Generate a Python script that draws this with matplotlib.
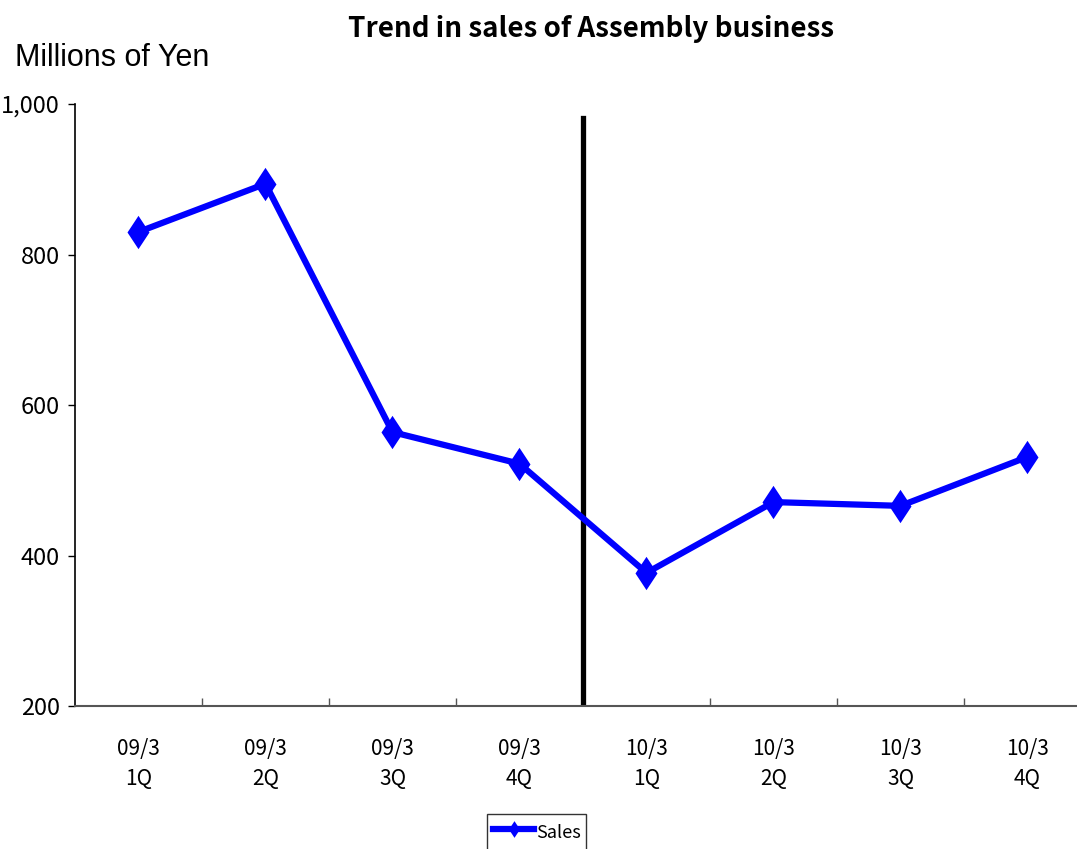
import matplotlib.pyplot as plt
from matplotlib.path import Path
from matplotlib.ticker import FuncFormatter, FixedLocator

periods = ['09/3\n1Q', '09/3\n2Q', '09/3\n3Q', '09/3\n4Q',
           '10/3\n1Q', '10/3\n2Q', '10/3\n3Q', '10/3\n4Q']
sales = [830, 894, 564, 522, 377, 471, 466, 531]
fiscal_split = 3.5

narrow = ['Liberation Sans Narrow', 'Noto Sans CJK JP', 'DejaVu Sans']

# tall, narrow diamond marker
diamond = Path([(0, 1), (0.66, 0), (0, -1), (-0.66, 0), (0, 1)],
               [Path.MOVETO, Path.LINETO, Path.LINETO, Path.LINETO, Path.CLOSEPOLY])

fig = plt.figure(figsize=(10.77, 8.49), dpi=100)
ax = fig.add_axes([0.0696, 0.1684, 0.9434, 0.7091])

x = range(len(sales))
ax.plot(x, sales, color='#0000ff', lw=4.5, marker=diamond, ms=24,
        markeredgewidth=0, label='Sales', zorder=3)
ax.axvline(fiscal_split, ymin=0, ymax=0.977, color='black', lw=3.8, zorder=2)

ax.set_xlim(-0.5, len(sales) - 0.5)
ax.set_ylim(200, 1000)
ax.set_yticks([200, 400, 600, 800, 1000])
ax.yaxis.set_major_formatter(FuncFormatter(lambda v, p: f'{int(v):,}'))
ax.set_xticks(list(x))
ax.set_xticklabels(periods, family=narrow, fontsize=15, linespacing=1.5)
ax.xaxis.set_minor_locator(FixedLocator([i + 0.5 for i in range(len(sales) - 1)]))
ax.tick_params(axis='x', which='major', length=0, pad=23)
ax.tick_params(axis='x', which='minor', direction='in', length=6, width=1, color='#555555')
ax.tick_params(axis='y', direction='out', length=5, width=1, pad=6)
for lbl in ax.get_yticklabels():
    lbl.set_family(narrow)
    lbl.set_fontsize(17)

for side in ('top', 'right'):
    ax.spines[side].set_visible(False)
ax.spines['left'].set_linewidth(1.2)
ax.spines['bottom'].set_color('#555555')
ax.spines['bottom'].set_linewidth(1.5)

fig.text(0.549, 0.966, 'Trend in sales of Assembly business', ha='center', va='center',
         family=narrow, fontsize=20, fontweight='bold')
fig.text(0.014, 0.932, 'Millions of Yen', ha='left', va='center',
         family=['Liberation Sans', 'DejaVu Sans'], fontsize=22)

leg = fig.legend(loc='upper center', bbox_to_anchor=(0.4985, 0.041), borderaxespad=0,
                 frameon=True, fancybox=False, edgecolor='black',
                 prop={'family': narrow, 'size': 13}, handlelength=2.3, handleheight=1.8,
                 handletextpad=0.1, borderpad=0.3, markerscale=0.5)
leg.get_frame().set_linewidth(1)

fig.savefig('out.png', dpi=100)
